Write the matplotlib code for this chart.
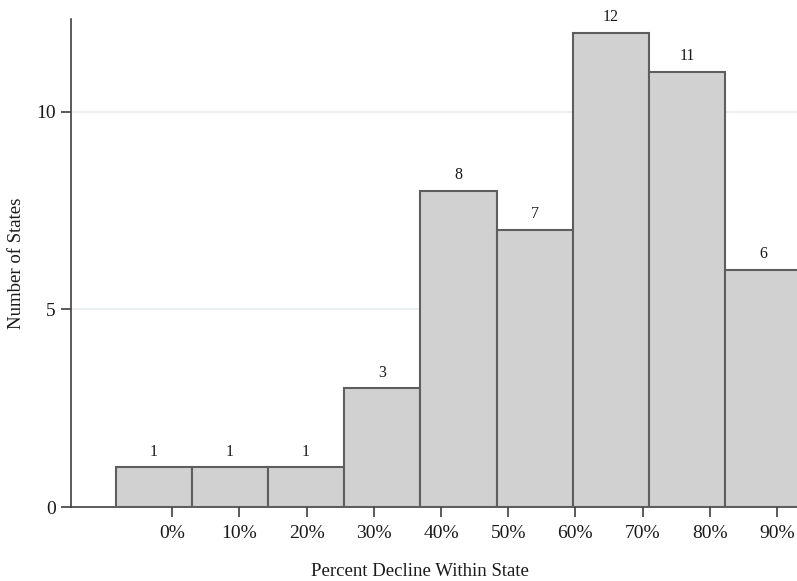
import matplotlib
matplotlib.use("Agg")
import matplotlib.pyplot as plt
import numpy as np

# Data
counts = [1, 1, 1, 3, 8, 7, 12, 11, 6]
bin_start = -0.0843
bin_width = 0.1134
tick_values = [0.0, 0.1, 0.2, 0.3, 0.4, 0.5, 0.6, 0.7, 0.8, 0.9]
tick_labels = ["0%", "10%", "20%", "30%", "40%", "50%", "60%", "70%", "80%", "90%"]
y_ticks = [0, 5, 10]

plt.rcParams['font.family'] = ['Liberation Serif', 'DejaVu Serif']
text_color = '#1a1a1a'

W, H = 797, 581
fig = plt.figure(figsize=(W / 100, H / 100), dpi=100)
ax = fig.add_axes([71 / W, 74 / H, 1 - 71 / W, 488 / H])

edges = bin_start + bin_width * np.arange(len(counts))
ax.bar(edges, counts, width=bin_width, align='edge', color='#d1d1d1',
       edgecolor='#5e5e5e', linewidth=1.5, zorder=3, clip_on=True)

for x, c in zip(edges, counts):
    ax.text(x + bin_width / 2, c + 0.2, str(c), ha='center', va='bottom',
            fontsize=11.5, color=text_color, zorder=4)

ax.set_xlim(-0.1508, 0.930)
ax.set_ylim(0, 12.35)

ax.set_xticks(tick_values)
ax.set_xticklabels(tick_labels)
ax.set_yticks(y_ticks)
ax.set_yticklabels([str(v) for v in y_ticks])

for v in y_ticks[1:]:
    ax.axhline(v, color='#e6eef0', linewidth=1.2, zorder=1)

for s in ['top', 'right']:
    ax.spines[s].set_visible(False)
for s in ['left', 'bottom']:
    ax.spines[s].set_color('#404040')
    ax.spines[s].set_linewidth(1.2)

ax.tick_params(axis='x', length=7, width=1.2, color='#404040', labelsize=14,
               labelcolor=text_color, pad=6)
ax.tick_params(axis='y', length=7, width=1.2, color='#404040', labelsize=14,
               labelcolor=text_color, pad=4)

fig.text(420 / W, 1 - 571 / H, "Percent Decline Within State", fontsize=13.5,
         color=text_color, ha='center', va='center')
fig.text(17 / W, 1 - 263 / H, "Number of States", fontsize=13.5,
         color=text_color, ha='center', va='center', rotation=90)

fig.savefig("out.png", dpi=100)
